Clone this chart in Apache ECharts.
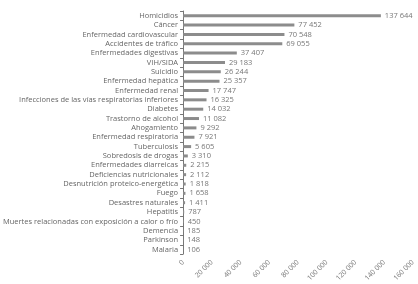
<!DOCTYPE html>
<html>
<head>
<meta charset="utf-8">
<script src="https://cdn.jsdelivr.net/npm/echarts@6/dist/echarts.min.js"></script>
<style>
  html, body { margin: 0; padding: 0; background: #fff; }
  #chart { width: 418px; height: 284px; }
</style>
</head>
<body>
<div id="chart"></div>
<script>
const causes = [
    'Homicidios', 'Cáncer', 'Enfermedad cardiovascular', 'Accidentes de tráfico',
    'Enfermedades digestivas', 'VIH/SIDA', 'Suicidio', 'Enfermedad hepática',
    'Enfermedad renal', 'Infecciones de las vías respiratorias inferiores', 'Diabetes',
    'Trastorno de alcohol', 'Ahogamiento', 'Enfermedad respiratoria', 'Tuberculosis',
    'Sobredosis de drogas', 'Enfermedades diarreicas', 'Deficiencias nutricionales',
    'Desnutrición proteico-energética', 'Fuego', 'Desastres naturales', 'Hepatitis',
    'Muertes relacionadas con exposición a calor o frío', 'Demencia', 'Parkinson', 'Malaria'
]
const deaths = [
    137644, 77452, 70548, 69055, 37407, 29183, 26244, 25357, 17747, 16325, 14032,
    11082, 9292, 7921, 5605, 3310, 2215, 2112, 1818, 1658, 1411, 787, 450, 185, 148, 106
]
const x_ticks = { min: 0, max: 160000, interval: 20000 }

const font = '"Open Sans", sans-serif'

// 137644 -> "137 644"
function fmt(n) {
    return String(n).replace(/\B(?=(\d{3})+(?!\d))/g, ' ')
}

const chart = echarts.init(document.getElementById('chart'))
chart.setOption({
    animation: false,
    grid: { left: 182, right: 5, top: 11, bottom: 22 },
    xAxis: {
        type: 'value',
        min: x_ticks.min,
        max: x_ticks.max,
        interval: x_ticks.interval,
        splitLine: { show: false },
        axisLine: { show: false },
        axisTick: { show: false },
        axisLabel: {
            rotate: 45,
            fontSize: 7,
            color: '#777',
            fontFamily: font,
            margin: 7,
            formatter: v => fmt(v)
        }
    },
    yAxis: {
        type: 'category',
        inverse: true,
        data: causes,
        axisLine: { show: true, lineStyle: { color: '#777', width: 1 } },
        axisTick: { show: true, length: 3, lineStyle: { color: '#777' } },
        axisLabel: { interval: 0, fontSize: 7.5, color: '#666', fontFamily: font, margin: 5 }
    },
    series: [{
        type: 'bar',
        data: deaths,
        barWidth: 3,
        itemStyle: { color: '#8c8c8c' },
        label: {
            show: true,
            position: 'right',
            distance: 4,
            fontSize: 7.5,
            color: '#777',
            fontFamily: font,
            formatter: p => fmt(p.value)
        }
    }]
})
</script>
</body>
</html>
